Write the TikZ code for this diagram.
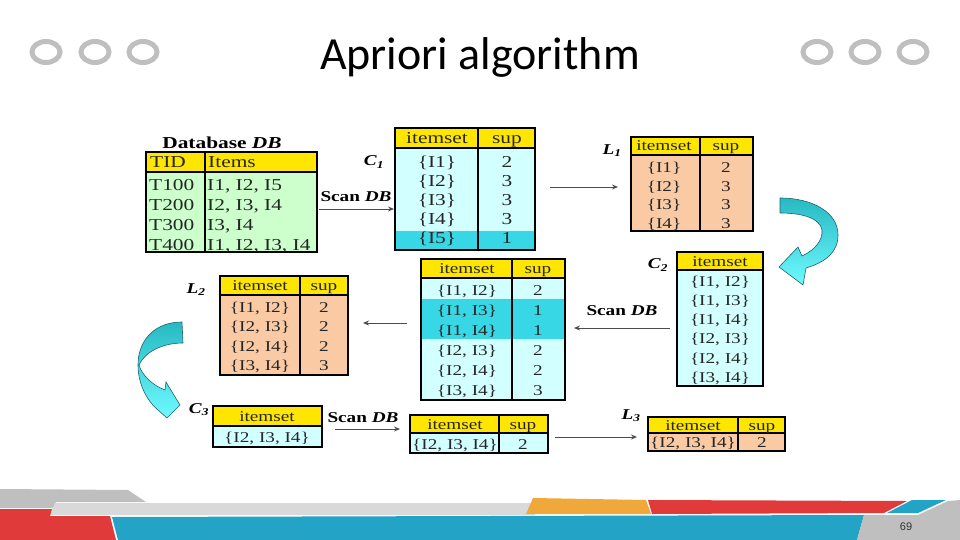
\documentclass[tikz,border=0pt]{standalone}
\usepackage{fontspec}
\setmainfont{Liberation Serif}[FakeStretch=1.28]
\newfontfamily\titlefont{Carlito}
\newfontfamily\pagefont{Liberation Sans}
\usetikzlibrary{arrows.meta, calc}

\definecolor{hdrYellow}{RGB}{255,230,0}
\definecolor{dbGreen}{RGB}{204,255,204}
\definecolor{candCyan}{RGB}{210,255,255}
\definecolor{pruneCyan}{RGB}{55,215,230}
\definecolor{freqPeach}{RGB}{250,202,165}
\definecolor{ringGray}{RGB}{191,191,191}
\definecolor{paleGray}{RGB}{217,217,217}
\definecolor{bandRed}{RGB}{224,58,58}
\definecolor{bandBlue}{RGB}{35,163,198}
\definecolor{bandOrange}{RGB}{240,168,58}
\definecolor{bendTeal}{RGB}{40,185,195}
\definecolor{bendLight}{RGB}{110,250,255}
\definecolor{bendEdge}{RGB}{30,100,110}

\newcommand{\setname}[2]{#1\textsubscript{#2}}
\newcommand{\scandb}{Scan \textit{DB}}

% table helpers: frame, yellow header, black rules
\newcommand{\tableframe}[6]{%
  \node[tbl, fill=#6, minimum width=#4pt, minimum height=#5pt] (#1) at (#2,#3) {};}
\newcommand{\tableheader}[2]{%
  \fill[hdrYellow] (#1.north west) rectangle ($(#1.north east)+(0,#2)$);}
\newcommand{\tablerim}[3]{%
  \draw[rim] (#1.north west) rectangle (#1.south east);
  \draw[rim] ($(#1.north west)+(0,#2)$) -- ($(#1.north east)+(0,#2)$);
  \draw[rim, line width=1.3pt] ($(#1.north west)+(#3,0)$) -- ($(#1.south west)+(#3,0)$);}

\tikzset{
  tbl/.style={inner sep=0pt, outer sep=0pt, anchor=north west},
  rim/.style={draw=black, line width=1.6pt},
  cell/.style={font=\fontsize{15}{15}\selectfont, text=black!85, inner sep=0pt, text height=11pt, text depth=1pt},
  bigcell/.style={font=\fontsize{16.7}{16.7}\selectfont, text=black!85, inner sep=0pt, text height=12pt, text depth=1pt},
  setlbl/.style={font=\fontsize{15}{15}\selectfont\bfseries\itshape, inner sep=0pt},
  scanlbl/.style={font=\fontsize{15}{15}\selectfont\bfseries, inner sep=0pt},
  conn/.style={draw=black!70, line width=0.9pt, -{Stealth[length=6pt, width=5pt]}},
  curvearrow/.style={draw=bendEdge, line width=0.6pt, top color=bendTeal, bottom color=bendLight},
  ring/.style={draw=ringGray, line width=5pt},
}

\begin{document}
\begin{tikzpicture}[x=1pt, y=-1pt]
    \useasboundingbox (0,0) rectangle (960,540);

    % Slide header
    \foreach \cx [count=\i] in {46, 95, 143, 817, 865, 913}
        \draw[ring] (\cx,52) ellipse (14 and 10.5);
    \node[font=\titlefont\fontsize{46}{46}\selectfont, anchor=base, inner sep=0pt] (title) at (480,70) {Apriori algorithm};

    % Database DB
    \node[font=\fontsize{16.7}{16.7}\selectfont\bfseries, inner sep=0pt] (db-title) at (222,143) {Database \textit{DB}};
    \tableframe{db}{146}{152}{171}{100}{dbGreen}
    \tableheader{db}{20}
    \tablerim{db}{20}{59}
    \node[bigcell, anchor=west] (db-h1) at (150,162) {TID};
    \node[bigcell, anchor=west] (db-h2) at (208,162) {Items};
    \foreach \tid/\its [count=\i] in {T100/{I1, I2, I5}, T200/{I2, I3, I4}, T300/{I3, I4}, T400/{I1, I2, I3, I4}} {
        \node[bigcell, anchor=west] (db-t\i) at (149,{165+20*\i}) {\tid};
        \node[bigcell, anchor=west] (db-s\i) at (207,{165+20*\i}) {\its};
    }

    % C1
    \node[setlbl] (c1-lbl) at (374,162) {\setname{C}{1}};
    \tableframe{c1}{395}{128}{140}{122}{candCyan}
    \tableheader{c1}{20}
    \fill[pruneCyan] ($(c1.south west)+(0,-19)$) rectangle (c1.south east);
    \tablerim{c1}{20}{83}
    \node[bigcell] (c1-h1) at (437,138) {itemset};
    \node[bigcell] (c1-h2) at (507,138) {sup};
    \foreach \s/\n [count=\i] in {I1/2, I2/3, I3/3, I4/3, I5/1} {
        \node[bigcell] (c1-s\i) at (437,{143+19*\i}) {\{\s\}};
        \node[bigcell] (c1-n\i) at (507,{143+19*\i}) {\n};
    }

    % L1
    \node[setlbl] (l1-lbl) at (612,151) {\setname{L}{1}};
    \tableframe{l1}{631}{137}{122}{94}{freqPeach}
    \tableheader{l1}{18}
    \tablerim{l1}{18}{69}
    \node[cell] (l1-h1) at (664,146) {itemset};
    \node[cell] (l1-h2) at (726,146) {sup};
    \foreach \s/\n [count=\i] in {I1/2, I2/3, I3/3, I4/3} {
        \node[cell] (l1-s\i) at (664,{149+18.5*\i}) {\{\s\}};
        \node[cell] (l1-n\i) at (726,{149+18.5*\i}) {\n};
    }

    % C2 candidates
    \node[setlbl] (c2-lbl) at (658,265) {\setname{C}{2}};
    \tableframe{c2}{677}{252}{86}{134}{candCyan}
    \tableheader{c2}{18}
    \tablerim{c2}{18}{0}
    \node[cell] (c2-h1) at (720,261) {itemset};
    \foreach \s [count=\i] in {{I1, I2}, {I1, I3}, {I1, I4}, {I2, I3}, {I2, I4}, {I3, I4}}
        \node[cell] (c2-s\i) at (720,{262+19.2*\i}) {\{\s\}};

    % C2 with counts
    \tableframe{c2c}{421}{259}{144}{141}{candCyan}
    \tableheader{c2c}{19}
    \fill[pruneCyan] ($(c2c.north west)+(0,40)$) rectangle ($(c2c.north east)+(0,80)$);
    \tablerim{c2c}{19}{91}
    \node[cell] (c2c-h1) at (467,268.5) {itemset};
    \node[cell] (c2c-h2) at (538,268.5) {sup};
    \foreach \s/\n [count=\i] in {{I1, I2}/2, {I1, I3}/1, {I1, I4}/1, {I2, I3}/2, {I2, I4}/2, {I3, I4}/3} {
        \node[cell] (c2c-s\i) at (467,{270+20*\i}) {\{\s\}};
        \node[cell] (c2c-n\i) at (538,{270+20*\i}) {\n};
    }

    % L2
    \node[setlbl] (l2-lbl) at (196,290) {\setname{L}{2}};
    \tableframe{l2}{220}{276}{128}{99}{freqPeach}
    \tableheader{l2}{19}
    \tablerim{l2}{19}{80}
    \node[cell] (l2-h1) at (260,285.5) {itemset};
    \node[cell] (l2-h2) at (324,285.5) {sup};
    \foreach \s/\n/\y [count=\i] in {{I1, I2}/2/307, {I2, I3}/2/326, {I2, I4}/2/346, {I3, I4}/3/365} {
        \node[cell] (l2-s\i) at (260,\y) {\{\s\}};
        \node[cell] (l2-n\i) at (324,\y) {\n};
    }

    % C3
    \node[setlbl] (c3-lbl) at (199,410) {\setname{C}{3}};
    \tableframe{c3}{213}{406}{109}{41}{candCyan}
    \tableheader{c3}{20}
    \tablerim{c3}{20}{0}
    \node[cell] (c3-h1) at (267,416) {itemset};
    \node[cell] (c3-s1) at (267,437) {\{I2, I3, I4\}};

    % C3 with counts
    \tableframe{c3c}{410}{415}{138}{38}{candCyan}
    \tableheader{c3c}{18}
    \tablerim{c3c}{18}{89}
    \node[cell] (c3c-h1) at (455,424) {itemset};
    \node[cell] (c3c-h2) at (523,424) {sup};
    \node[cell] (c3c-s1) at (455,444) {\{I2, I3, I4\}};
    \node[cell] (c3c-n1) at (523,444) {2};

    % L3
    \node[setlbl] (l3-lbl) at (631,416) {\setname{L}{3}};
    \tableframe{l3}{648}{417}{137}{34}{freqPeach}
    \tableheader{l3}{16}
    \tablerim{l3}{16}{90}
    \node[cell] (l3-h1) at (693,425) {itemset};
    \node[cell] (l3-h2) at (762,425) {sup};
    \node[cell] (l3-s1) at (693,442) {\{I2, I3, I4\}};
    \node[cell] (l3-n1) at (762,442) {2};

    % Scans and arrows
    \node[scanlbl] (scan1) at (356,197) {\scandb};
    \node[scanlbl] (scan2) at (622,311) {\scandb};
    \node[scanlbl] (scan3) at (363,418) {\scandb};
    \draw[conn, shorten <=2pt, shorten >=1pt] ([yshift=-7pt]db.east) -- ([yshift=-20pt]c1.west);
    \draw[conn, shorten <=15pt, shorten >=13pt] ([yshift=2pt]c1.east) -- ([yshift=-3pt]l1.west);
    \draw[conn, shorten <=7pt, shorten >=9pt] ([yshift=-9pt]c2.west) -- ([yshift=1.5pt]c2c.east);
    \draw[conn, shorten <=14pt, shorten >=15pt] ([yshift=6.5pt]c2c.west) -- ([yshift=2.5pt]l2.east);
    \draw[conn, shorten <=13pt, shorten >=10pt] ([yshift=-2.5pt]c3.east) -- ([yshift=5pt]c3c.west);
    \draw[conn, shorten <=7pt, shorten >=11pt] ([yshift=-3pt]c3c.east) -- ([yshift=-3pt]l3.west);

    % Curved join arrows
    \draw[curvearrow] (780,198) .. controls (812,198) and (838,212) .. (838,235)
        .. controls (838,252) and (826,262) .. (806,268) -- (803,285) -- (779,267) -- (798,247) -- (802,256)
        .. controls (815,250) and (823,240) .. (822,230) .. controls (820,218) and (802,213) .. (780,213) -- cycle;
    \draw[curvearrow] (182,322) .. controls (155,322) and (138,340) .. (138,365)
        .. controls (138,385) and (148,402) .. (158,410) -- (167,418) -- (180,405) -- (166,382) -- (165,390)
        .. controls (152,385) and (142,375) .. (139,365) .. controls (145,352) and (162,343) .. (183,343) -- cycle;

    % Footer bands
    \fill[ringGray] (0,489) -- (128,490) -- (146,502) -- (56,502) -- (53,508) -- (0,508) -- cycle;
    \fill[paleGray] (55,503) -- (540,503) -- (535,515) -- (50,515) -- cycle;
    \fill[bandRed] (0,509) -- (52,509) -- (50,516) -- (110,516) -- (116,540) -- (0,540) -- cycle;
    \fill[bandBlue] (112,517) -- (864,515) -- (857,540) -- (118,540) -- cycle;
    \fill[bandOrange] (526,514) -- (533,498) -- (646,500) -- (651,514) -- cycle;
    \fill[bandRed] (648,500) -- (907,501) -- (884,513) -- (652,514) -- cycle;
    \fill[bandBlue] (887,513) -- (912,500) -- (946,500) -- (918,513) -- cycle;
    \fill[ringGray] (864,515) -- (918,515) -- (948,501) -- (960,500) -- (960,540) -- (857,540) -- cycle;
    \node[font=\pagefont\fontsize{11}{11}\selectfont, text=black!80] (page) at (906,527) {69};
\end{tikzpicture}
\end{document}
